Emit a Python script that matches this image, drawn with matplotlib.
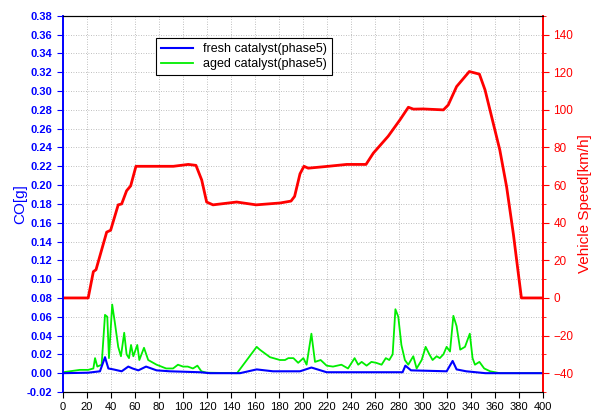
import matplotlib
matplotlib.use("Agg")
import matplotlib.pyplot as plt
from matplotlib.ticker import MultipleLocator

plt.rcParams["font.family"] = ["Liberation Sans", "DejaVu Sans"]

speed_t = [0, 20, 21, 25.3, 27.5, 36.4, 39.7, 46, 48.9, 53, 56.4, 60.8, 92, 104.4, 110.8, 115.6, 119.7, 125,
           144.7, 161, 181, 190, 193, 197.5, 200.8, 204.4, 221, 236.4, 252.5, 258.6, 271, 280.8, 287.8, 292,
           300, 317, 321, 328, 338.6, 347, 351.7, 364, 369.7, 375.3, 382, 400]
speed_v = [0, 0, 0, 14, 15, 35, 36, 49.5, 50, 57, 59.6, 70, 70, 71, 70.5, 62.7, 51, 49.5,
           51, 49.5, 50.5, 51.5, 54, 66, 70, 69, 70, 71, 71, 77, 86, 94.7, 101.4, 100.4,
           100.5, 100, 102.6, 112.4, 120.4, 119, 110.6, 78.7, 59, 34, 0, 0]

aged_t = [0, 14, 21, 25.3, 26.7, 28.6, 32.2, 35, 36.9, 38.3, 41, 43.3, 46, 48.3, 51, 53, 55, 56.7, 58.6, 61.9,
          63.6, 67.5, 71, 78, 86, 91.7, 95.8, 100, 104, 108.3, 112, 115.3, 119.7, 145, 161.4, 164, 172.5,
          175.3, 180.8, 185, 187.8, 192, 196, 200.3, 203, 207, 210, 214.7, 219.7, 225, 232, 237.5, 243, 246,
          248.9, 253, 257, 261, 265.5, 269, 271.9, 274.7, 277, 279.4, 282, 284.9, 287.7, 291.9, 294.7, 298.9,
          302.2, 305.3, 308, 311.4, 314, 317, 319.7, 322.5, 325.3, 328, 331, 335, 339, 341.3, 343.3, 347,
          351, 356, 364, 400]
aged_v = [0.001, 0.0035, 0.0035, 0.005, 0.016, 0.007, 0.009, 0.062, 0.06, 0.016, 0.073, 0.053, 0.028, 0.018,
          0.043, 0.02, 0.016, 0.03, 0.018, 0.03, 0.014, 0.027, 0.014, 0.009, 0.005, 0.005, 0.009, 0.007,
          0.007, 0.005, 0.008, 0.002, 0.0005, 0.0, 0.028, 0.025, 0.017, 0.016, 0.014, 0.014, 0.016, 0.016,
          0.011, 0.016, 0.009, 0.042, 0.012, 0.014, 0.008, 0.007, 0.009, 0.005, 0.016, 0.009, 0.012, 0.008,
          0.012, 0.011, 0.009, 0.016, 0.014, 0.02, 0.068, 0.06, 0.03, 0.014, 0.009, 0.018, 0.005, 0.014,
          0.028, 0.02, 0.014, 0.018, 0.016, 0.02, 0.028, 0.023, 0.061, 0.05, 0.025, 0.028, 0.042, 0.016,
          0.009, 0.012, 0.005, 0.002, 0.0, 0.0]

fresh_t = [0, 21, 30.8, 35, 37.8, 42, 48.9, 54.4, 58, 62.8, 69.2, 78, 89, 114, 122.5, 147.5, 161.4, 175,
           197.5, 207, 219.7, 283, 285.3, 290, 319.7, 324.7, 328, 336, 352, 400]
fresh_v = [0, 0.0005, 0.002, 0.017, 0.005, 0.004, 0.002, 0.007, 0.005, 0.003, 0.007, 0.003, 0.002, 0.001,
           0, 0, 0.004, 0.002, 0.002, 0.006, 0.001, 0.001, 0.008, 0.003, 0.002, 0.013, 0.004, 0.002, 0, 0]

fig = plt.figure(figsize=(6.0, 4.17), dpi=100)
ax = fig.add_axes([0.105, 0.06, 0.80, 0.902])
ax2 = ax.twinx()

grid_kw = dict(color="#aaaaaa", linestyle=(0, (1, 2)), linewidth=0.6)
ax.grid(True, **grid_kw)
ax.set_axisbelow(True)

l1, = ax.plot(fresh_t, fresh_v, color="#0000FF", lw=1.5, label="fresh catalyst(phase5)", zorder=3)
l2, = ax.plot(aged_t, aged_v, color="#00EE00", lw=1.3, label="aged catalyst(phase5)", zorder=2)
ax2.plot(speed_t, speed_v, color="#FF0000", lw=2)

ax.set_xlim(0, 400)
ax.set_ylim(-0.02, 0.38)
ax2.set_ylim(-50, 150)
ax.xaxis.set_major_locator(MultipleLocator(20))
ax.yaxis.set_major_locator(MultipleLocator(0.02))
ax2.yaxis.set_minor_locator(MultipleLocator(10))
ax2.set_yticks(range(-40, 141, 20))

ax.yaxis.set_major_formatter(matplotlib.ticker.FormatStrFormatter("%.2f"))
ax.tick_params(axis="y", colors="#0000FF", labelsize=8, direction="out", length=4)
for lab in ax.get_yticklabels():
    lab.set_fontweight("bold")
ax.tick_params(axis="x", colors="black", labelsize=8, direction="out", length=4)
ax2.tick_params(axis="y", which="both", colors="#FF0000", labelsize=8.5, direction="out")
ax2.tick_params(axis="y", which="major", length=4)
ax2.tick_params(axis="y", which="minor", length=2.5)

ax.spines["left"].set_color("#0000FF")
ax2.spines["left"].set_color("#0000FF")
ax2.spines["right"].set_color("#FF0000")
ax.spines["right"].set_color("#FF0000")
for a in (ax, ax2):
    a.spines["left"].set_linewidth(1.2)
    a.spines["right"].set_linewidth(1.2)

ax.set_ylabel("CO[g]", color="#0000FF", fontsize=11, labelpad=0)
ax2.set_ylabel("Vehicle Speed[km/h]", color="#FF0000", fontsize=11, labelpad=3)

leg = ax.legend(handles=[l1, l2], loc="upper left", bbox_to_anchor=(0.18, 0.958), fontsize=9,
                frameon=True, fancybox=False, edgecolor="black", framealpha=1, handlelength=2.6,
                borderpad=0.4, labelspacing=0.25)
leg.get_frame().set_linewidth(0.8)

fig.savefig("out.png", dpi=100)
